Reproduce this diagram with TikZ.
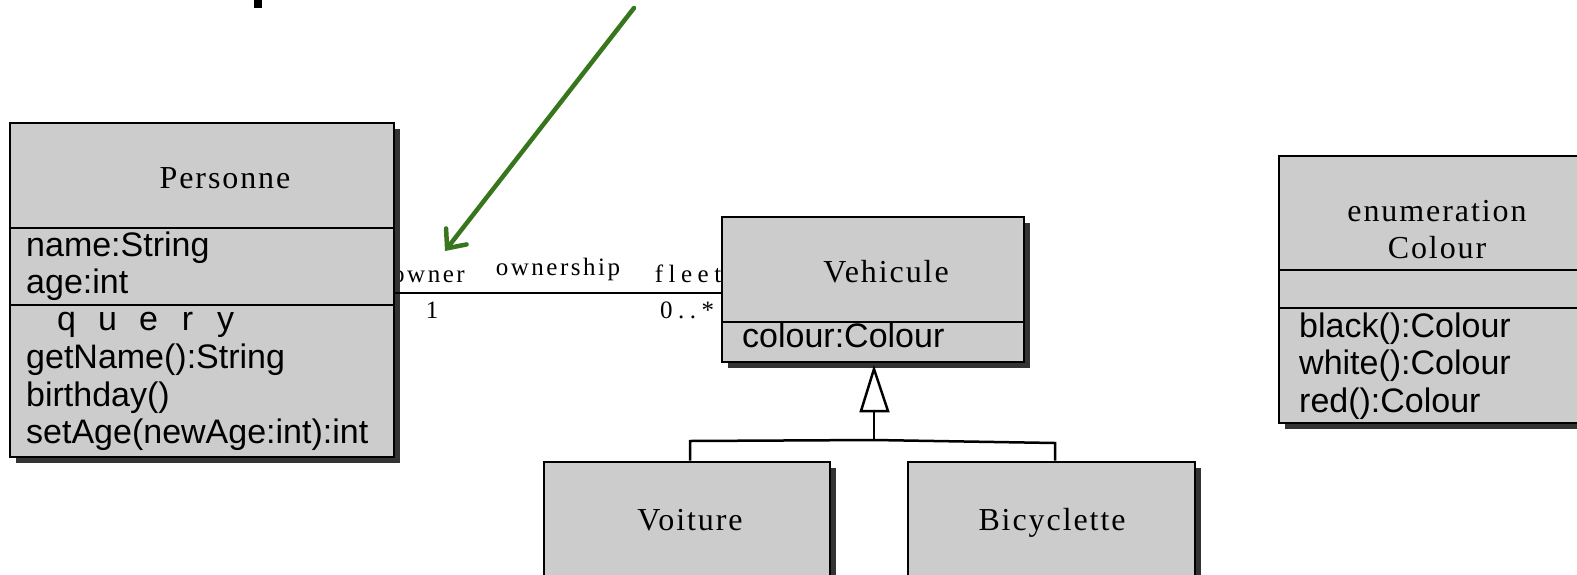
\documentclass[tikz,border=0pt]{standalone}
\usepackage{fontspec}
\setmainfont{Liberation Serif}
\newfontfamily\attrfont{Liberation Sans}
\newfontfamily\hdrfont[LetterSpace=6]{Liberation Serif}
\newfontfamily\lblfont[LetterSpace=10]{Liberation Serif}
\newfontfamily\widelblfont[LetterSpace=22]{Liberation Serif}
\usetikzlibrary{shadows,arrows.meta}
\definecolor{boxgray}{HTML}{CCCCCC}
\definecolor{shadowgray}{HTML}{333333}
\definecolor{arrowgreen}{HTML}{38761D}
\begin{document}
\begin{tikzpicture}[x=1pt,y=-1pt,
  classbox/.style={draw=black, line width=2.6pt, fill=boxgray, inner sep=0pt,
    drop shadow={shadow xshift=6pt, shadow yshift=-6pt, opacity=1, fill=shadowgray}},
  divider/.style={draw=black, line width=2.8pt},
  hdr/.style={anchor=base, inner sep=0pt, font=\hdrfont\fontsize{32}{38}\selectfont},
  attr/.style={anchor=base west, inner sep=0pt, font=\attrfont\fontsize{34}{40}\selectfont},
  lbl/.style={anchor=base, inner sep=0pt, font=\lblfont\fontsize{25}{30}\selectfont},
  widelbl/.style={anchor=base, inner sep=0pt, font=\widelblfont\fontsize{25}{30}\selectfont},
  assoc/.style={draw=black, line width=2.8pt},
  genline/.style={draw=black, line width=2.5pt},
  greenarrow/.style={draw=arrowgreen, line width=4.5pt, line cap=round,
    -{Straight Barb[length=15pt,width=26pt,line cap=round]}}
]
\useasboundingbox (0,0) rectangle (1577,574);
\clip (0,0) rectangle (1577,574);

% fragment of cut-off title
\fill[black] (254,0) rectangle (262,8);

% association end label partly hidden behind Personne box
\node[lbl, anchor=base west] (owner) at (392,282) {owner};

% classes
\node[classbox, minimum width=384pt, minimum height=334pt] (personne) at (202,290) {};
\draw[divider] (10,228) -- (394,228);
\draw[divider] (10,305) -- (394,305);
\node[hdr] (personneT) at (225,188) {Personne};
\node[attr] (a1) at (26,256) {name:String};
\node[attr] (a2) at (26,293) {age:int};
\node[attr] (a3) at (57,330) {q\hspace{22pt}u\hspace{22pt}e\hspace{24pt}r\hspace{24pt}y};
\node[attr] (a4) at (26,368) {getName():String};
\node[attr] (a5) at (26,406) {birthday()};
\node[attr] (a6) at (26,443) {setAge(newAge:int):int};

\node[classbox, minimum width=302pt, minimum height=145pt] (vehicule) at (873,289.5) {};
\draw[divider] (722,322) -- (1024,322);
\node[hdr] (vehiculeT) at (886,282) {Vehicule};
\node[attr] (v1) at (742,347) {colour:Colour};

\node[classbox, minimum width=320pt, minimum height=267pt] (colour) at (1439,289.5) {};
\draw[divider] (1279,270) -- (1599,270);
\draw[divider] (1279,308) -- (1599,308);
\node[hdr] (colourT1) at (1437,221) {enumeration};
\node[hdr] (colourT2) at (1437,258) {Colour};
\node[attr] (c1) at (1299,337) {black():Colour};
\node[attr] (c2) at (1299,374) {white():Colour};
\node[attr] (c3) at (1299,412) {red():Colour};

\node[classbox, minimum width=286pt, minimum height=160pt] (voiture) at (687,542) {};
\node[hdr] (voitureT) at (690,530) {Voiture};
\node[classbox, minimum width=287pt, minimum height=160pt] (bicyclette) at (1051.5,542) {};
\node[hdr] (bicycletteT) at (1052,530) {Bicyclette};

% association
\coordinate (assocy) at (0,293);
\draw[assoc] (personne.east |- assocy) -- (vehicule.west |- assocy);
\node[lbl] (ownership) at (558,275) {ownership};
\node[widelbl] (fleet) at (688,282) {fleet};
\node[widelbl] (one) at (432,318) {1};
\node[widelbl] (many) at (687,318) {0..*};

% generalization
\coordinate (apex) at (874,369);
\coordinate (tribase) at (874,411);
\coordinate (join) at (874,440);
\coordinate (vj) at (690,441);
\coordinate (bj) at (1055,443);
\draw[genline, fill=white, line join=miter] (apex) -- (861,411) -- (888,411) -- cycle;
\draw[genline] (tribase) -- (join);
\draw[genline] (join) -- (vj) -- (vj |- voiture.north);
\draw[genline] (join) -- (bj) -- (bj |- bicyclette.north);

% green pointer
\coordinate (gstart) at (634,8);
\coordinate (gtip) at (445,251);
\draw[greenarrow] (gstart) -- (gtip);
\end{tikzpicture}
\end{document}
